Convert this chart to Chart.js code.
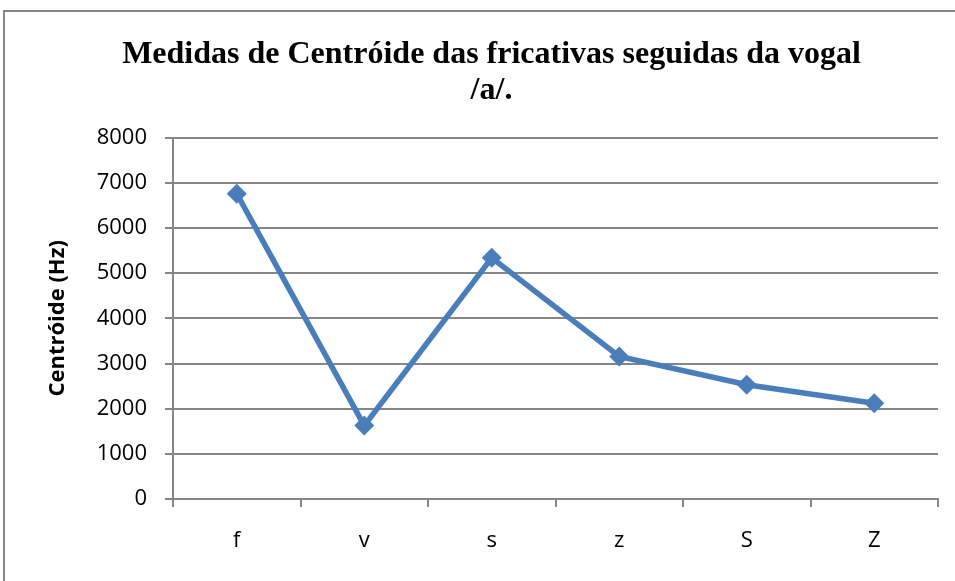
<!DOCTYPE html>
<html>
<head>
<meta charset="utf-8">
<script src="https://cdn.jsdelivr.net/npm/chart.js@4/dist/chart.umd.min.js"></script>
<style>
html,body{margin:0;padding:0;background:#fff;}
#wrap{width:955px;height:581px;position:relative;}
</style>
</head>
<body>
<div id="wrap"><canvas id="c" width="955" height="581"></canvas></div>
<script>
const categories = ['f', 'v', 's', 'z', 'S', 'Z'];
const centroidValues = [6760, 1625, 5340, 3155, 2530, 2120];
const titleLines = ['Medidas de Centróide das fricativas seguidas da vogal', '/a/.'];
const yTitle = 'Centróide (Hz)';

const borderPlugin = {
  id: 'outerBorder',
  afterDraw(chart) {
    const ctx = chart.ctx;
    ctx.save();
    ctx.strokeStyle = '#868686';
    ctx.lineWidth = 2;
    ctx.strokeRect(4, 11, 1000, 700);
    ctx.restore();
  }
};

const sans = '"Open Sans", "Liberation Sans", sans-serif';

new Chart(document.getElementById('c'), {
  type: 'line',
  data: {
    labels: categories,
    datasets: [{
      data: centroidValues,
      borderColor: '#4A7EBB',
      backgroundColor: '#4A7EBB',
      borderWidth: 5.5,
      pointStyle: 'rectRot',
      pointRadius: 10,
      pointHoverRadius: 10,
      pointBorderWidth: 0,
      tension: 0,
      fill: false
    }]
  },
  options: {
    responsive: false,
    animation: false,
    layout: { padding: { left: 45, right: 17, top: 0, bottom: 0 } },
    plugins: {
      legend: { display: false },
      tooltip: { enabled: false },
      title: {
        display: true,
        text: titleLines,
        color: '#000',
        font: { family: '"Liberation Serif", "Times New Roman", serif', size: 32, weight: 'bold', lineHeight: 1.12 },
        padding: { top: 37, bottom: 29 }
      }
    },
    scales: {
      x: {
        offset: true,
        grid: { display: true, offset: true, drawOnChartArea: false, color: '#868686', lineWidth: 2, tickLength: 8 },
        border: { display: true, color: '#868686', width: 2 },
        ticks: { color: '#000', font: { family: sans, size: 22 }, padding: 21 },
        afterFit(scale) { scale.height = 82; }
      },
      y: {
        min: 0, max: 8000,
        ticks: { stepSize: 1000, color: '#000', font: { family: sans, size: 22 }, padding: 18,
                 callback: (v) => String(v) },
        grid: { color: '#868686', lineWidth: 2, tickLength: 8 },
        border: { display: true, color: '#868686', width: 2 },
        title: { display: true, text: yTitle, color: '#000', font: { family: sans, size: 22, weight: 'bold' }, padding: { top: 0, bottom: 0 } },
        afterFit(scale) { scale.width = 128; }
      }
    }
  },
  plugins: [borderPlugin]
});
</script>
</body>
</html>
